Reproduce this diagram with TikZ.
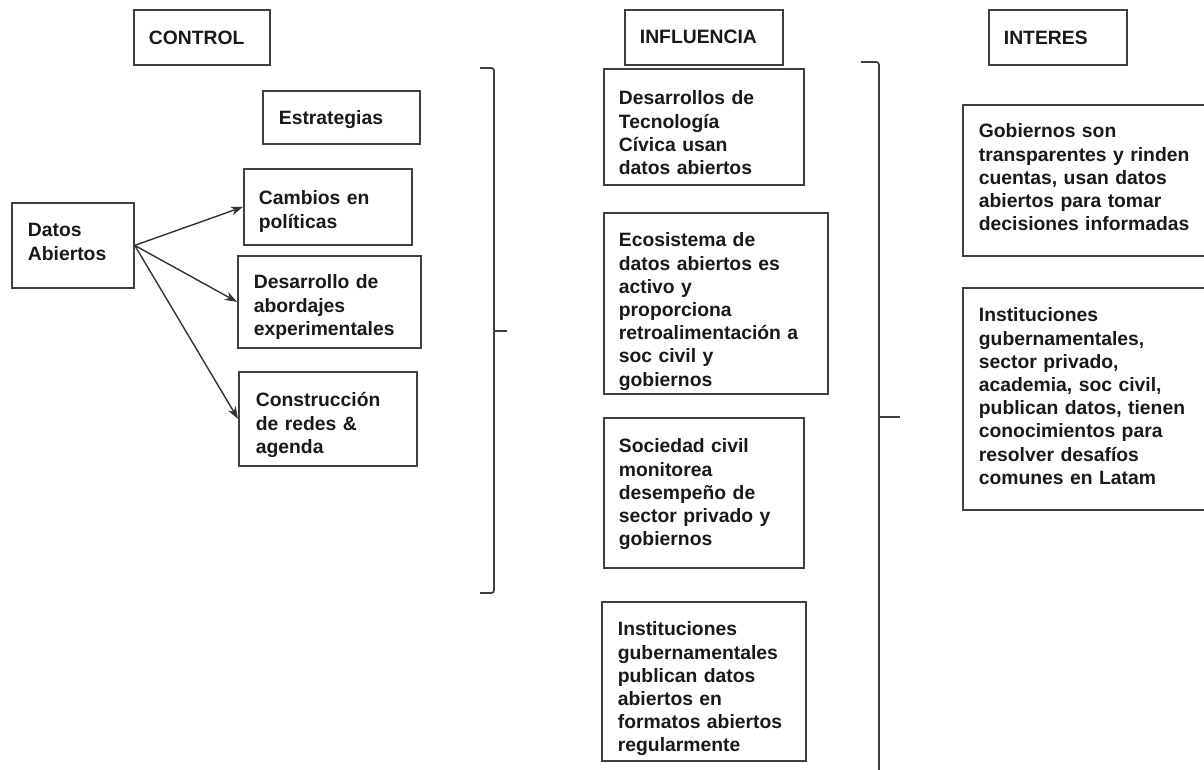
\documentclass[tikz,border=0pt]{standalone}
\usepackage{fontspec}
\setmainfont{Liberation Sans}
\usepackage{tikz}
\usetikzlibrary{arrows.meta, positioning}

\tikzset{
  caja/.style n args={5}{draw=black!75, line width=1pt, anchor=north west,
    inner sep=0pt, align=left, text=black!90, text width=#1cm,
    text height=#2cm, text depth=#3cm,
    execute at begin node={\leftskip=#4cm}},
  flecha/.style={-{Stealth[length=7pt,width=5pt]}, black!80, line width=0.8pt},
  llave/.style={black!75, line width=1pt, rounded corners=1.5pt}
}

\begin{document}
\begin{tikzpicture}[x=0.02cm, y=-0.02cm,
  font=\fontsize{11}{13.2}\selectfont\bfseries]

\useasboundingbox (0,0) rectangle (1204,769);
\clip (0,0) rectangle (1204,769);

% Column headers
        \node[caja={2.72}{0.70}{0.40}{0.30}{}] (ctl) at (133,9) {CONTROL};
        \node[caja={3.16}{0.68}{0.42}{0.30}{}] (inf) at (624,9) {INFLUENCIA};
        \node[caja={2.76}{0.70}{0.40}{0.30}{}] (int) at (988,9) {INTERES};

% Control
        \node[caja={3.14}{0.68}{0.38}{0.32}{}] (est) at (262,90) {Estrategias};
        \node[caja={2.44}{0.68}{1.02}{0.32}{}] (dat) at (11,202) {Datos\\Abiertos};
        \node[caja={3.36}{0.72}{0.80}{0.30}{}] (cam) at (243,168) {Cambios en\\políticas};
        \node[caja={3.66}{0.66}{1.18}{0.32}{}] (des) at (237,255) {Desarrollo de\\abordajes\\experimentales};
        \node[caja={3.56}{0.70}{1.18}{0.34}{}] (con) at (238,371) {Construcción\\de redes \&\\agenda};

        \draw[flecha] (dat.east) -- (cam.west);
        \draw[flecha] (dat.east) -- (des.west);
        \draw[flecha] (dat.east) -- (con.west);

% Influencia
        \node[caja={4.00}{0.72}{1.60}{0.30}{}] (tec) at (603,68) {Desarrollos de\\Tecnología\\Cívica usan\\datos abiertos};
        \node[caja={4.48}{0.68}{2.94}{0.30}{}] (eco) at (603,212) {Ecosistema de\\datos abiertos es\\activo y\\proporciona\\retroalimentación a\\soc civil y\\gobiernos};
        \node[caja={4.00}{0.70}{2.30}{0.30}{}] (soc) at (603,417) {Sociedad civil\\monitorea\\desempeño de\\sector privado y\\gobiernos};
        \node[caja={4.08}{0.68}{2.50}{0.32}{}] (pub) at (601,601) {Instituciones\\gubernamentales\\publican datos\\abiertos en\\formatos abiertos\\regularmente};

% Interes
        \node[caja={5.00}{0.66}{2.36}{0.32}{}] (gob) at (962,104) {Gobiernos son\\transparentes y rinden\\cuentas, usan datos\\abiertos para tomar\\decisiones informadas};
        \node[caja={5.00}{0.68}{3.76}{0.32}{}] (ins) at (962,287) {Instituciones\\gubernamentales,\\sector privado,\\academia, soc civil,\\publican datos, tienen\\conocimientos para\\resolver desafíos\\comunes en Latam};

% Brackets
        \coordinate (ll1) at (494,331);
        \draw[llave] (480,68) -- (494,68) -- (494,593) -- (480,593);
        \draw[llave] (ll1) -- ++(13,0);
        \coordinate (ll2) at (879,417);
        \draw[llave] (861,62) -- (879,62) -- (879,780);
        \draw[llave] (ll2) -- ++(21,0);

\end{tikzpicture}
\end{document}
